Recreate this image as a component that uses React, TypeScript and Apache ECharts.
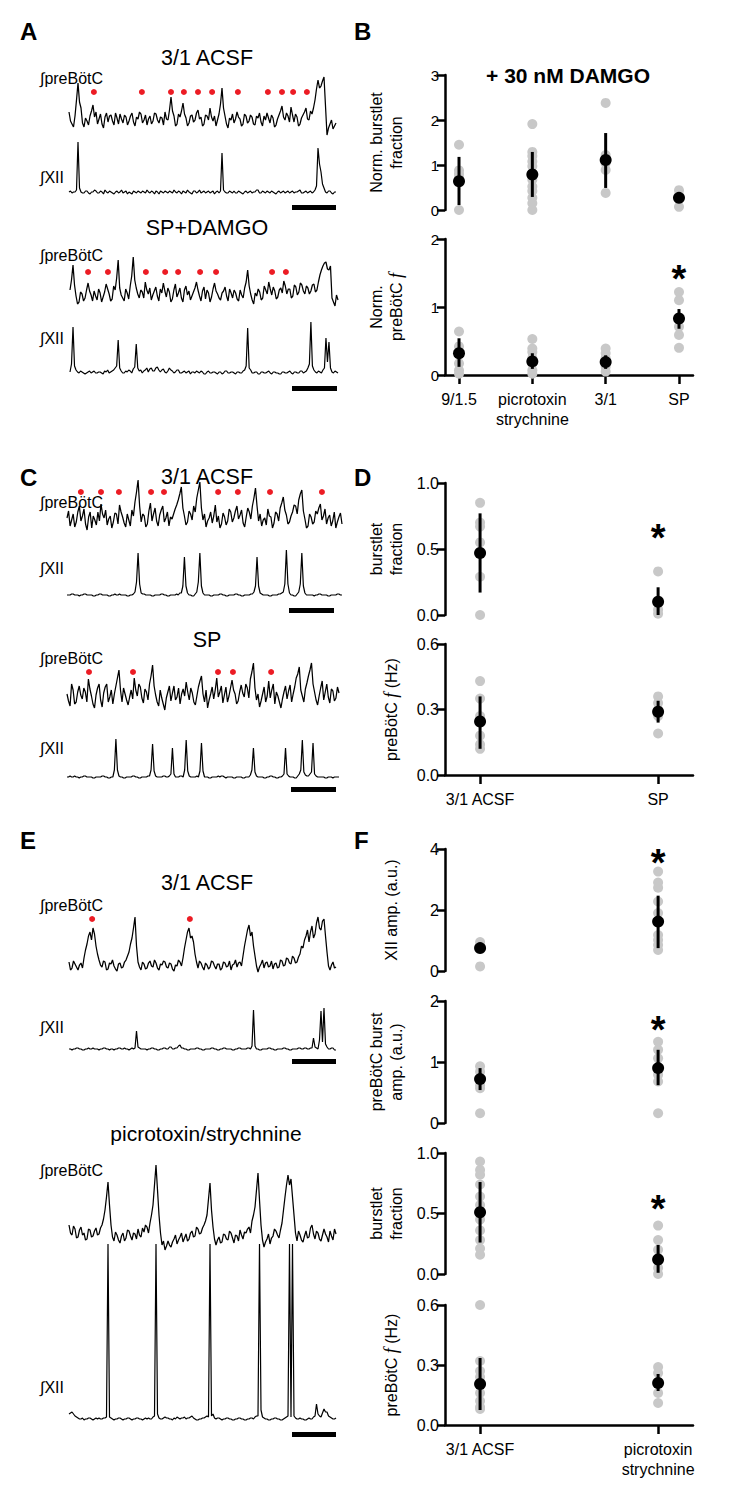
import React, { useEffect, useRef } from 'react';
import * as echarts from 'echarts';

const FONT = '"Liberation Sans", Arial, sans-serif';

// ---------------- Trace data (a.u., evenly spaced samples) ----------------
const A1_PRE = [26,17,14,11,22,38,55,36,30,15, 11,20,17,13,22,27,33,21,26,14, 19,24,14,10,21,25,16,22,23,17, 13,25,20,14,24,19,15,23,21,13, 17,22,25,16,12,21,19,26,24,15, 18,23,13,19,22,14,17,25,24,18, 15,21,20,13,26,19,18,28,41,27, 22,12,14,24,21,27,35,24,20,12, 15,22,23,16,18,25,28,19,21,12, 14,23,22,18,30,21,17,22,12,18, 24,34,50,30,22,14,10,20,18,24, 15,19,26,21,19,12,14,24,22,15, 17,23,21,14,13,22,20,25,16,12, 22,18,25,20,15,23,20,11,13,19, 23,27,32,21,18,25,22,16,31,23, 16,24,21,12,14,20,23,26,30,19, 18,27,24,30,38,49,58,50,52,57, 61,32,3,10,14,18,9,12,15];
const A1_XII = [4,5,3,4,4,6,54,8,4,3, 3,5,5,3,2,4,4,6,5,3, 3,5,4,2,6,4,3,5,4,3, 2,4,5,3,4,6,3,4,5,2, 4,3,2,5,4,3,5,4,3,5, 4,3,6,4,3,5,4,2,5,4, 2,5,4,3,5,4,3,5,4,3, 6,4,3,5,4,2,5,4,3,6, 4,3,2,5,5,3,4,6,3,4, 5,3,4,5,3,4,5,2,4,5, 3,5,43,6,4,3,3,5,4,3, 5,3,3,5,4,3,2,4,5,3, 4,5,3,4,4,6,6,3,3,5, 4,3,5,4,3,5,4,3,2,4, 5,3,4,5,3,4,5,3,4,5, 3,4,4,5,6,3,3,4,5,3, 4,5,3,4,6,10,48,32,24,12, 8,4,3,5,5,3,2,4,4];
const A2_PRE = [20,30,45,25,14,6,8,18,16,9, 12,20,27,19,15,9,19,14,10,21, 17,8,13,18,26,21,16,9,11,24, 20,32,50,22,15,12,9,21,17,11, 24,34,53,30,22,16,12,20,18,12, 28,20,16,22,10,15,19,23,14,9, 21,17,27,19,13,22,18,8,11,20, 26,13,17,22,12,8,20,24,15,19, 10,14,18,22,28,20,14,9,19,23, 11,20,17,8,13,21,27,19,16,12, 10,17,19,23,14,9,21,17,12,20, 17,11,9,20,15,12,22,28,40,24, 16,10,6,17,14,21,18,10,12,24, 20,16,28,21,15,23,19,11,13,20, 22,17,29,24,16,21,21,12,14,25, 23,15,18,27,25,19,16,24,22,16, 19,25,26,18,20,28,35,40,44,47, 48,41,40,44,12,8,4,15,10];
const A2_XII = [4,12,49,10,6,4,3,5,4,3, 2,3,4,5,3,4,5,3,3,4, 4,3,2,5,4,6,3,4,5,6, 8,10,36,8,5,3,3,5,4,6, 5,3,7,9,32,8,5,6,3,5, 6,8,4,7,8,5,5,8,9,6, 4,6,7,4,3,5,8,6,5,3, 4,6,6,3,3,4,5,3,4,5, 2,4,4,3,5,4,3,5,4,2, 2,4,5,3,3,4,4,3,2,4, 4,2,3,5,5,3,3,4,4,3, 2,4,4,3,3,5,6,10,48,8, 6,3,3,4,4,2,2,4,4,3, 3,4,5,3,2,4,4,3,3,2, 2,4,4,3,3,4,5,3,2,4, 4,3,3,5,5,3,4,5,8,12, 54,10,6,4,3,5,4,3,6,8, 38,14,34,8,4,3,5,4,3];
const C1_PRE = [18,25,10,16,22,9,14,24,30,15, 20,27,12,6,19,24,8,20,16,11, 24,15,32,22,18,26,11,17,20,8, 14,23,22,12,31,24,19,13,9,22, 16,10,26,20,34,44,56,30,14,22, 20,9,12,25,33,15,22,28,15,10, 21,26,30,14,18,24,10,19,17,22, 27,31,36,42,49,28,20,11,14,25, 22,16,30,24,38,46,54,28,16,22, 9,15,18,24,13,20,31,14,20,8, 12,23,19,11,15,27,24,14,18,25, 30,17,21,26,13,9,19,28,24,17, 30,38,48,30,15,22,10,16,18,11, 27,20,19,8,13,24,22,15,28,33, 39,26,21,12,14,20,24,31,30,22, 36,42,46,25,17,8,10,22,19,12, 14,25,22,28,32,16,20,27,12,18, 21,10,15,24,8,14,19,23,12];
const C1_XII = [3,3,3,4,4,3,3,3,2,3, 3,4,4,3,3,3,3,2,2,3, 3,4,4,3,3,3,3,2,2,3, 3,4,3,3,4,3,3,3,3,2, 2,3,3,4,6,16,45,14,5,4, 4,3,3,3,3,2,2,3,3,3, 3,4,4,3,3,2,2,3,3,3, 3,4,3,5,5,12,41,12,5,3, 3,2,2,4,6,16,45,12,5,3, 3,3,3,2,2,3,3,3,3,4, 4,3,3,2,2,3,3,3,3,4, 4,3,3,2,2,3,3,3,3,4, 4,6,12,41,12,5,4,3,3,3, 3,2,2,3,3,3,3,4,4,5, 6,14,48,14,5,3,3,2,2,4, 6,14,45,12,5,3,3,3,3,3, 2,3,3,4,4,3,3,3,3,2, 2,3,3,3,3,4,4,3,3];
const C2_PRE = [20,13,8,30,24,10,12,22,28,19, 15,26,22,12,35,25,18,10,6,19, 26,30,14,7,21,27,30,12,17,24, 10,20,28,36,44,24,12,26,20,14, 9,17,24,15,36,24,18,30,27,16, 11,25,22,14,30,38,49,28,19,12, 8,24,16,10,4,16,22,28,13,21, 28,14,17,26,10,20,25,18,32,22, 14,26,21,12,9,18,27,33,38,20, 12,24,6,14,20,27,15,24,36,17, 22,28,11,19,27,12,18,26,34,24, 20,10,13,22,29,21,17,30,26,16, 35,42,51,26,14,20,7,13,20,27, 12,18,33,16,24,30,10,22,18,12, 6,15,22,28,15,23,29,12,20,27, 36,40,47,24,18,12,25,31,38,44, 51,30,22,14,9,18,26,33,14,22, 30,17,11,25,23,13,16,27,21];
const C2_XII = [3,3,4,3,3,4,3,3,2,3, 3,4,4,3,3,3,3,2,2,3, 3,3,3,4,4,3,3,2,2,3, 3,10,41,10,4,3,3,2,2,3, 3,3,3,4,4,3,3,2,2,3, 3,3,3,4,4,10,36,9,4,3, 3,3,3,4,4,3,3,4,6,32, 6,3,3,3,4,4,3,10,40,9, 4,3,3,3,3,4,3,9,37,9, 3,3,3,2,2,3,3,3,3,4, 3,4,4,3,2,3,3,3,3,2, 2,3,3,3,3,2,2,3,3,3, 5,10,32,8,4,3,3,3,3,2, 2,3,3,4,4,3,3,2,2,3, 3,4,6,32,6,4,3,3,3,2, 2,4,6,10,40,8,5,4,4,6, 8,37,6,4,3,3,3,3,3,2, 2,3,3,3,2,3,3,3,3];
const E1_PRE = [14,6,8,15,12,9,6,11,13,8, 18,26,32,40,44,36,48,42,30,22, 16,11,9,15,14,6,7,13,12,16, 10,7,5,12,13,8,9,14,16,20, 24,32,38,48,59,30,14,9,6,14, 12,7,8,13,15,10,9,16,13,8, 6,12,11,15,14,9,8,13,12,7, 5,11,10,16,14,10,18,28,36,44, 48,38,40,34,22,14,8,15,13,9, 6,13,11,7,9,15,14,10,7,12, 12,6,8,14,13,9,10,15,6,11, 12,16,9,13,14,10,20,30,38,46, 51,40,44,30,20,10,4,9,12,16, 8,13,14,9,10,15,7,12,13,8, 9,16,15,10,11,18,17,13,12,20, 18,13,14,19,22,30,28,36,40,46, 34,44,50,38,42,53,59,48,46,55, 57,40,24,10,6,11,14,8,9];
const E1_XII = [3,3,2,3,3,4,4,3,3,2, 2,3,3,4,3,3,4,3,3,3, 2,3,3,4,4,3,3,2,3,3, 2,3,3,4,4,3,3,4,3,3, 2,3,4,3,4,21,5,4,3,3, 3,3,2,3,3,4,4,3,3,2, 2,3,3,4,4,3,3,5,5,3, 3,4,4,6,7,4,4,3,3,2, 2,3,3,3,3,4,4,3,3,2, 2,3,3,3,3,4,4,3,3,2, 2,3,3,4,4,3,3,3,3,2, 2,3,3,4,4,3,3,3,3,4, 4,3,6,42,6,3,3,2,2,3, 3,3,3,4,4,3,3,2,2,3, 3,3,3,4,4,3,3,2,2,3, 3,3,3,4,4,3,3,4,4,3, 3,4,4,14,5,4,3,12,41,10, 44,8,5,3,3,4,4,2,2];
const E2_PRE = [30,22,20,29,26,17,18,25,28,20, 22,15,16,26,25,18,19,24,27,20, 21,27,30,36,45,58,73,50,30,18, 14,23,20,15,12,19,22,14,17,25, 24,19,15,22,21,16,26,20,18,27, 23,30,28,22,32,40,50,70,90,65, 40,22,10,14,5,9,14,10,8,13, 16,20,11,15,18,22,13,17,21,14, 16,22,24,18,19,28,26,21,22,27, 30,34,40,56,72,45,28,16,10,15, 18,12,13,21,20,16,15,24,22,17, 12,20,19,14,25,20,16,23,22,26, 28,22,34,40,48,65,82,55,30,15, 8,13,16,21,11,17,19,26,24,20, 17,25,32,45,58,70,80,70,76,58, 40,22,14,24,20,15,13,19,24,17, 18,27,30,21,16,24,22,16,14,20, 26,21,18,13,24,19,15,26,21];
const E2_XII = [8,9,10,8,6,5,4,3,3,4, 2,3,3,4,4,3,2,3,4,3, 4,3,3,4,4,5,178,5,4,3, 2,3,3,4,4,3,2,3,3,4, 4,3,2,3,3,4,4,3,3,2, 3,4,3,4,3,3,5,6,178,8, 4,3,3,4,5,4,4,3,3,2, 4,3,5,4,3,4,4,5,3,4, 4,5,6,4,3,2,2,3,3,4, 4,5,6,5,178,6,8,4,3,4, 4,3,2,3,3,4,4,3,3,2, 2,3,3,4,4,3,3,2,2,3, 3,4,4,3,5,6,6,178,12,5, 4,3,3,2,2,3,3,4,4,3, 3,2,2,3,4,5,6,178,5,178, 6,4,3,3,4,3,3,2,2,3, 4,3,3,5,6,18,8,6,5,9, 13,10,10,6,5,4,3,3,4];

// burstlet markers (time in units of 1/89 of the trace)
const A1_DOTS = [8.3, 24.3, 34, 38.3, 43, 47.7, 56.3, 66.3, 71, 74.7, 79.3];
const A2_DOTS = [6.0, 12.6, 25.2, 31.6, 35.9, 43.2, 48.5, 67.1, 71.7];
const C1_DOTS = [4.5, 11.0, 16.8, 27.2, 31.4, 48.9, 55.3, 65.7, 82.5];
const C2_DOTS = [7.2, 21.6, 49.4, 54.3, 66.8];
const E1_DOTS = [7.7, 40.3];

// ---------------- Summary data ----------------
const B_CATS = ['9/1.5', 'picrotoxin\nstrychnine', '3/1', 'SP'];
const B1_GRAY = [[1.45, 0.88, 0.8, 0.72, 0.0], [1.91, 1.29, 1.2, 1.08, 0.97, 0.81, 0.67, 0.52, 0.42, 0.27, 0.15, 0.0], [2.38, 1.22, 1.04, 0.89, 0.38], [0.44, 0.33, 0.07]];
const B1_MEAN = [0.64, 0.79, 1.11, 0.27];
const B1_LO = [0.11, 0.29, 0.49, 0.22];
const B1_HI = [1.18, 1.29, 1.71, 0.32];
const B2_GRAY = [[0.64, 0.42, 0.17, 0.07, 0.02], [0.53, 0.39, 0.34, 0.25, 0.17, 0.07, 0.02], [0.39, 0.32, 0.25, 0.12, 0.05], [1.22, 1.1, 0.82, 0.71, 0.59, 0.4]];
const B2_MEAN = [0.32, 0.2, 0.19, 0.83];
const B2_LO = [0.12, 0.09, 0.09, 0.68];
const B2_HI = [0.54, 0.32, 0.29, 0.97];

const D_CATS = ['3/1 ACSF', 'SP'];
const D1_GRAY = [[0.85, 0.7, 0.67, 0.55, 0.47, 0.29, 0.0], [0.33, 0.04, 0.01]];
const D1_MEAN = [0.47, 0.1];
const D1_LO = [0.17, 0.0];
const D1_HI = [0.77, 0.21];
const D2_GRAY = [[0.43, 0.35, 0.27, 0.25, 0.18, 0.14, 0.12], [0.36, 0.33, 0.3, 0.27, 0.19]];
const D2_MEAN = [0.245, 0.29];
const D2_LO = [0.12, 0.24];
const D2_HI = [0.36, 0.34];

const F_CATS = ['3/1 ACSF', 'picrotoxin\nstrychnine'];
const F1_GRAY = [[0.95, 0.85, 0.75, 0.15], [3.26, 2.9, 2.73, 2.28, 1.9, 1.62, 1.18, 1.02, 0.85, 0.69]];
const F1_MEAN = [0.75, 1.62];
const F1_LO = [0.68, 0.75];
const F1_HI = [0.85, 2.47];
const F2_GRAY = [[0.93, 0.84, 0.72, 0.62, 0.57, 0.16], [1.33, 1.2, 1.06, 0.9, 0.79, 0.68, 0.16]];
const F2_MEAN = [0.72, 0.9];
const F2_LO = [0.54, 0.62];
const F2_HI = [0.9, 1.2];
const F3_GRAY = [[0.93, 0.86, 0.82, 0.74, 0.64, 0.57, 0.51, 0.45, 0.36, 0.28, 0.21, 0.16], [0.4, 0.28, 0.2, 0.12, 0.05, 0.0]];
const F3_MEAN = [0.51, 0.12];
const F3_LO = [0.26, 0.01];
const F3_HI = [0.76, 0.24];
const F4_GRAY = [[0.6, 0.32, 0.27, 0.24, 0.2, 0.16, 0.12, 0.09, 0.08], [0.29, 0.26, 0.21, 0.16, 0.11]];
const F4_MEAN = [0.205, 0.21];
const F4_LO = [0.075, 0.17];
const F4_HI = [0.335, 0.255];

// ---------------- Layout ----------------
const TRACES = [
  { data: A1_PRE, left: 69, width: 267, top: 74, height: 64, dots: A1_DOTS, dotLevel: 46, lw: 1.25 },
  { data: A1_XII, left: 69, width: 267, top: 140, height: 56, lw: 1.2 },
  { data: A2_PRE, left: 70, width: 268, top: 255, height: 55, dots: A2_DOTS, dotLevel: 38, lw: 1.25 },
  { data: A2_XII, left: 70, width: 268, top: 318, height: 58, lw: 1.2 },
  { data: C1_PRE, left: 67, width: 275, top: 478, height: 58, dots: C1_DOTS, dotLevel: 44, lw: 1.25 },
  { data: C1_XII, left: 67, width: 275, top: 550, height: 48, lw: 1.2 },
  { data: C2_PRE, left: 67, width: 272, top: 658, height: 56, dots: C2_DOTS, dotLevel: 42, lw: 1.25 },
  { data: C2_XII, left: 67, width: 272, top: 737, height: 43, lw: 1.2 },
  { data: E1_PRE, left: 69, width: 267, top: 912, height: 64, dots: E1_DOTS, dotLevel: 57, lw: 1.25 },
  { data: E1_XII, left: 69, width: 267, top: 1000, height: 52, lw: 1.2 },
  { data: E2_PRE, left: 69, width: 267, top: 1160, height: 95, lw: 1.25 },
  { data: E2_XII, left: 69, width: 267, top: 1238, height: 184, lw: 1.2 },
];
const T_SPAN = 89;

const F_IT = 'preBötC {i|f}';
const STATS = [
  { top: 75, height: 135, min: 0, max: 3, interval: 1, dec: 0, name: 'Norm. burstlet\nfraction', gap: 39, cats: B_CATS, xMin: 0.809, xMax: 4.191, showX: false, gray: B1_GRAY, mean: B1_MEAN, lo: B1_LO, hi: B1_HI, tickFs: 15 },
  { top: 239, height: 136, min: 0, max: 2, interval: 1, dec: 0, name: 'Norm.\n' + F_IT, gap: 39, cats: B_CATS, xMin: 0.809, xMax: 4.191, showX: true, gray: B2_GRAY, mean: B2_MEAN, lo: B2_LO, hi: B2_HI, star: [4, 1.54], tickFs: 15 },
  { top: 483, height: 132, min: 0, max: 1, interval: 0.5, dec: 1, name: 'burstlet\nfraction', gap: 39, cats: D_CATS, xMin: 0.803, xMax: 2.196, showX: false, gray: D1_GRAY, mean: D1_MEAN, lo: D1_LO, hi: D1_HI, star: [2, 0.65], tickFs: 16 },
  { top: 644, height: 131, min: 0, max: 0.6, interval: 0.3, dec: 1, name: F_IT + ' (Hz)', gap: 44, cats: D_CATS, xMin: 0.803, xMax: 2.196, showX: true, gray: D2_GRAY, mean: D2_MEAN, lo: D2_LO, hi: D2_HI, tickFs: 16 },
  { top: 849, height: 122, min: 0, max: 4, interval: 2, dec: 0, name: 'XII amp. (a.u.)', gap: 44, cats: F_CATS, xMin: 0.803, xMax: 2.196, showX: false, gray: F1_GRAY, mean: F1_MEAN, lo: F1_LO, hi: F1_HI, star: [2, 3.85], tickFs: 16 },
  { top: 1001, height: 122, min: 0, max: 2, interval: 1, dec: 0, name: 'preBötC burst\namp. (a.u.)', gap: 39, cats: F_CATS, xMin: 0.803, xMax: 2.196, showX: false, gray: F2_GRAY, mean: F2_MEAN, lo: F2_LO, hi: F2_HI, star: [2, 1.67], tickFs: 16 },
  { top: 1153, height: 121, min: 0, max: 1, interval: 0.5, dec: 1, name: 'burstlet\nfraction', gap: 39, cats: F_CATS, xMin: 0.803, xMax: 2.196, showX: false, gray: F3_GRAY, mean: F3_MEAN, lo: F3_LO, hi: F3_HI, star: [2, 0.61], tickFs: 16 },
  { top: 1305, height: 120, min: 0, max: 0.6, interval: 0.3, dec: 1, name: F_IT + ' (Hz)', gap: 44, cats: F_CATS, xMin: 0.803, xMax: 2.196, showX: true, gray: F4_GRAY, mean: F4_MEAN, lo: F4_LO, hi: F4_HI, tickFs: 16 },
];

const txt = (text: string, x: number, y: number, size: number, bold = false, align = 'left') => ({
  type: 'text', x, y, silent: true,
  style: { text, fontSize: size, fontFamily: FONT, fontWeight: bold ? 'bold' : 'normal', fill: '#000', align, textAlign: align, verticalAlign: 'middle', textVerticalAlign: 'middle' },
});
const bar = (x: number, y: number, w: number) => ({ type: 'rect', silent: true, shape: { x, y, width: w, height: 5 }, style: { fill: '#000' } });

function buildOption() {
  const grids: any[] = [], xAxes: any[] = [], yAxes: any[] = [], series: any[] = [];

  TRACES.forEach((t: any) => {
    const k = grids.length;
    const n = t.data.length;
    grids.push({ left: t.left, top: t.top, width: t.width, height: t.height });
    xAxes.push({ gridIndex: k, type: 'value', min: 0, max: T_SPAN, show: false });
    yAxes.push({ gridIndex: k, type: 'value', min: 0, max: t.height, show: false });
    series.push({
      type: 'line', xAxisIndex: k, yAxisIndex: k,
      data: t.data.map((v: number, i: number) => [(i * T_SPAN) / (n - 1), v]),
      showSymbol: false, symbol: 'none', lineStyle: { color: '#000', width: t.lw }, silent: true, clip: false, z: 2,
    });
    if (t.dots) {
      series.push({
        type: 'scatter', xAxisIndex: k, yAxisIndex: k, data: t.dots.map((d: number) => [d, t.dotLevel]),
        symbolSize: 6, itemStyle: { color: '#ec1c24', opacity: 1 }, silent: true, z: 3,
      });
    }
  });

  STATS.forEach((s: any) => {
    const k = grids.length;
    const catVals = s.cats.map((_: string, i: number) => i + 1);
    grids.push({ left: 445, width: 248, top: s.top, height: s.height });
    xAxes.push({
      gridIndex: k, type: 'value', min: s.xMin, max: s.xMax,
      axisLine: { show: s.showX, onZero: false, lineStyle: { color: '#000', width: 2.5 } },
      axisTick: { show: s.showX, customValues: catVals, length: 9, lineStyle: { color: '#000', width: 2.5 } },
      axisLabel: {
        show: s.showX, customValues: catVals, formatter: (v: number) => s.cats[Math.round(v) - 1] || '',
        fontSize: 16, color: '#000', fontFamily: FONT, margin: 14, lineHeight: 20,
      },
      splitLine: { show: false },
    });
    yAxes.push({
      gridIndex: k, type: 'value', min: s.min, max: s.max, interval: s.interval,
      axisLine: { show: true, onZero: false, lineStyle: { color: '#000', width: 2.5 } },
      axisTick: { show: true, length: 8, lineStyle: { color: '#000', width: 2.5 } },
      axisLabel: { fontSize: s.tickFs, color: '#000', fontFamily: FONT, margin: 6, formatter: (v: number) => v.toFixed(s.dec) },
      splitLine: { show: false },
      name: s.name, nameLocation: 'middle', nameGap: s.gap, nameRotate: 90,
      nameTextStyle: {
        fontSize: 16, color: '#000', fontFamily: FONT, lineHeight: 20,
        rich: { i: { fontStyle: 'italic', fontFamily: '"Liberation Serif", serif', fontSize: 18, color: '#000' } },
      },
    });
    series.push({
      type: 'scatter', xAxisIndex: k, yAxisIndex: k, silent: true, z: 2,
      data: s.gray.flatMap((arr: number[], i: number) => arr.map((v) => [i + 1, v])),
      symbolSize: 10, itemStyle: { color: '#c8c8c8', opacity: 1 },
    });
    series.push({
      type: 'custom', xAxisIndex: k, yAxisIndex: k, silent: true, z: 3,
      data: s.lo.map((lo: number, i: number) => [i + 1, lo, s.hi[i]]),
      encode: { x: 0, y: [1, 2] },
      renderItem: (_p: any, api: any) => {
        const a = api.coord([api.value(0), api.value(1)]);
        const b = api.coord([api.value(0), api.value(2)]);
        return { type: 'line', shape: { x1: a[0], y1: a[1], x2: b[0], y2: b[1] }, style: { stroke: '#000', lineWidth: 3 } };
      },
    });
    series.push({
      type: 'scatter', xAxisIndex: k, yAxisIndex: k, silent: true, z: 4,
      data: s.mean.map((v: number, i: number) => [i + 1, v]),
      symbolSize: 12, itemStyle: { color: '#000', opacity: 1 },
    });
    if (s.star) {
      series.push({
        type: 'scatter', xAxisIndex: k, yAxisIndex: k, silent: true, z: 5,
        data: [s.star], symbolSize: 0.1, itemStyle: { color: '#000', opacity: 1 },
        label: { show: true, formatter: '*', position: 'inside', fontSize: 38, fontWeight: 'bold', fontFamily: FONT, color: '#000', opacity: 1, offset: [0, 9] },
      });
    }
  });

  const graphics: any[] = [
    txt('A', 20, 31, 24, true), txt('B', 354, 31, 24, true),
    txt('C', 20, 477, 24, true), txt('D', 354, 477, 24, true),
    txt('E', 20, 840, 24, true), txt('F', 354, 840, 24, true),
    txt('3/1 ACSF', 207, 58, 21.5, false, 'center'),
    txt('SP+DAMGO', 207, 228, 21.5, false, 'center'),
    txt('3/1 ACSF', 207, 477, 21.5, false, 'center'),
    txt('SP', 207, 640, 21.5, false, 'center'),
    txt('3/1 ACSF', 207, 883, 21.5, false, 'center'),
    txt('picrotoxin/strychnine', 206, 1133, 21, false, 'center'),
    txt('+ 30 nM DAMGO', 568, 75, 21, true, 'center'),
    txt('∫preBötC', 40, 78, 16), txt('∫XII', 40, 177, 16),
    txt('∫preBötC', 40, 255, 16), txt('∫XII', 40, 338, 16),
    txt('∫preBötC', 40, 502, 16), txt('∫XII', 40, 568, 16),
    txt('∫preBötC', 40, 658, 16), txt('∫XII', 40, 748, 16),
    txt('∫preBötC', 40, 905, 16), txt('∫XII', 40, 1027, 16),
    txt('∫preBötC', 40, 1170, 16), txt('∫XII', 40, 1387, 16),
    bar(292, 205, 44), bar(292, 386, 45), bar(289, 608, 45),
    bar(291, 787, 45), bar(292, 1059, 44), bar(292, 1432, 44),
  ];

  return {
    animation: false,
    backgroundColor: '#ffffff',
    textStyle: { fontFamily: FONT },
    grid: grids, xAxis: xAxes, yAxis: yAxes, series,
    graphic: { elements: graphics },
  };
}

export default function App() {
  const ref = useRef<HTMLDivElement>(null);
  useEffect(() => {
    const chart = echarts.init(ref.current as HTMLDivElement, null, { renderer: 'svg', width: 740, height: 1499 });
    chart.setOption(buildOption() as any);
    return () => chart.dispose();
  }, []);
  return <div ref={ref} style={{ position: 'absolute', left: 0, top: 0, width: 740, height: 1499, background: '#fff' }} />;
}
